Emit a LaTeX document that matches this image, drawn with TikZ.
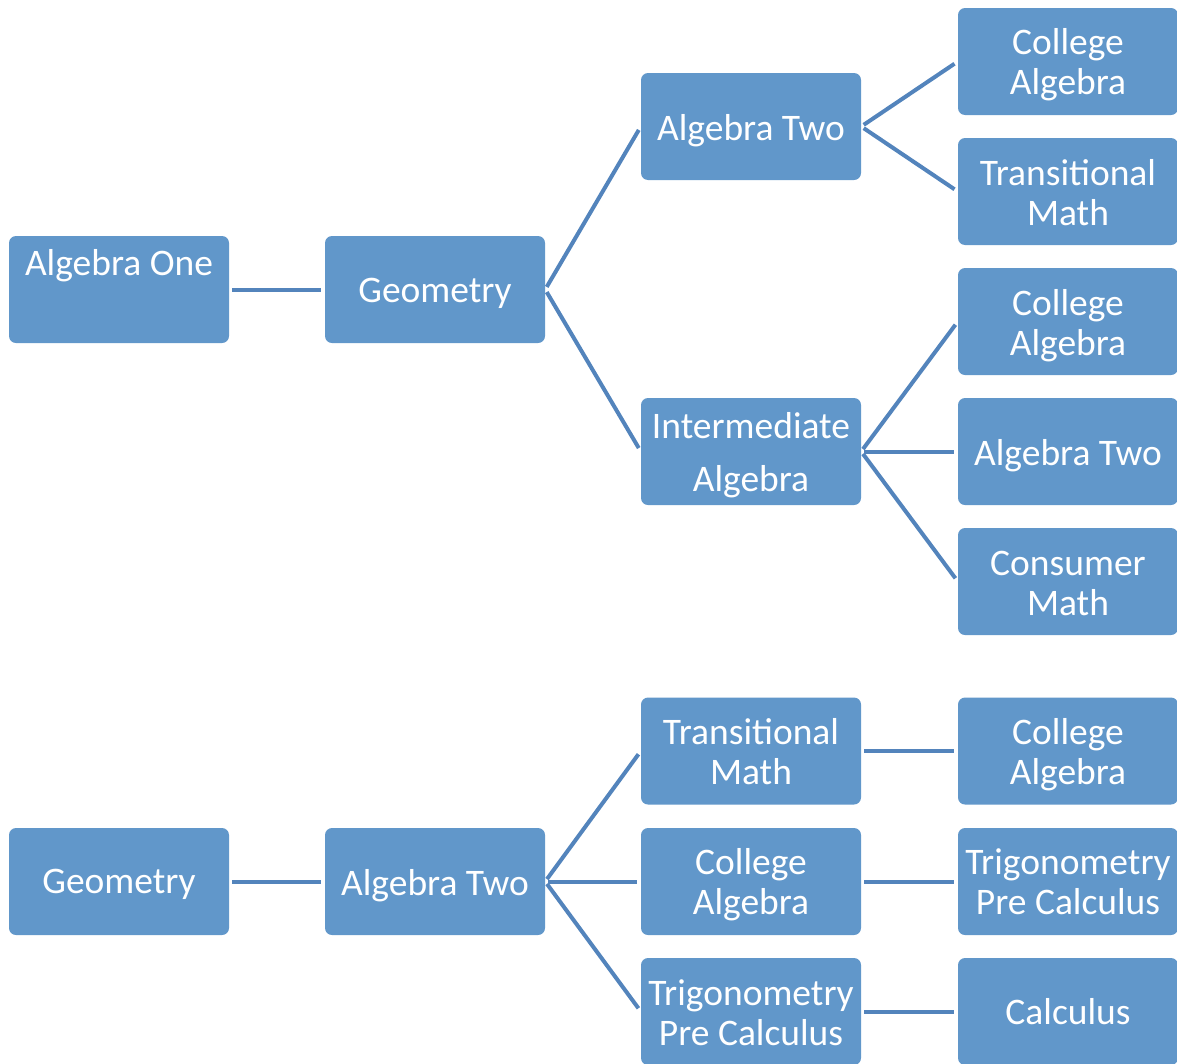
\documentclass[tikz,border=0pt]{standalone}
\usepackage{fontspec}
\setmainfont{Carlito}
\definecolor{boxblue}{HTML}{6197CA}
\definecolor{lineblue}{HTML}{5384BC}
\newcommand\mybx[5][-4pt]{\node[box] (#2) at (#3,#4) {};
  \node[txt] (#2-t) at ([yshift=#1]#2.center) {#5};}
\begin{document}
\begin{tikzpicture}[x=1pt,y=-1pt,
  box/.style={fill=boxblue,draw=none,rounded corners=7pt,minimum width=220pt,minimum height=107pt,
    inner sep=0pt},
  txt/.style={inner sep=0pt,text=white,align=center,font=\fontsize{37.5}{40}\selectfont},
  link/.style={draw=lineblue,line width=4pt,shorten <=3pt,shorten >=4pt}]
\useasboundingbox (0,0) rectangle (1177,1063);
% top tree
\mybx[1pt]{a1}{119}{289.5}{Algebra One\\\strut}
\mybx{g1}{435}{289.5}{Geometry}
\mybx{a2}{751}{126.5}{Algebra Two}
\mybx{ia}{751}{451.5}{Intermediate\\[13pt]Algebra}
\mybx[-3pt]{ca1}{1068}{61.5}{College\\Algebra}
\mybx[-1pt]{tm1}{1068}{191.5}{Transitional\\Math}
\mybx{ca2}{1068}{321.5}{College\\Algebra}
\mybx{at2}{1068}{451.5}{Algebra Two}
\mybx[-2pt]{cm}{1068}{581.5}{Consumer\\Math}
\draw[link] (a1.east) -- (g1.west);
\draw[link] (g1.east) -- (a2.west);
\draw[link] (g1.east) -- (ia.west);
\draw[link] (a2.east) -- (ca1.west);
\draw[link] (a2.east) -- (tm1.west);
\draw[link] (ia.east) -- (ca2.west);
\draw[link] (ia.east) -- (at2.west);
\draw[link] (ia.east) -- (cm.west);
% bottom tree
\mybx[-3pt]{g2}{119}{881.5}{Geometry}
\mybx{b2}{435}{881.5}{Algebra Two}
\mybx[-1pt]{tm2}{751}{751}{Transitional\\Math}
\mybx[-3pt]{ca3}{751}{881.5}{College\\Algebra}
\mybx[-1pt]{tp1}{751}{1011.5}{Trigonometry\\Pre Calculus}
\mybx{ca4}{1068}{751}{College\\Algebra}
\mybx[0pt]{tp2}{1068}{881.5}{Trigonometry\\Pre Calculus}
\mybx[0pt]{cal}{1068}{1011.5}{Calculus}
\draw[link] (g2.east) -- (b2.west);
\draw[link] (b2.east) -- (tm2.west);
\draw[link] (b2.east) -- (ca3.west);
\draw[link] (b2.east) -- (tp1.west);
\draw[link] (tm2.east) -- (ca4.west);
\draw[link] (ca3.east) -- (tp2.west);
\draw[link] (tp1.east) -- (cal.west);
\end{tikzpicture}
\end{document}
